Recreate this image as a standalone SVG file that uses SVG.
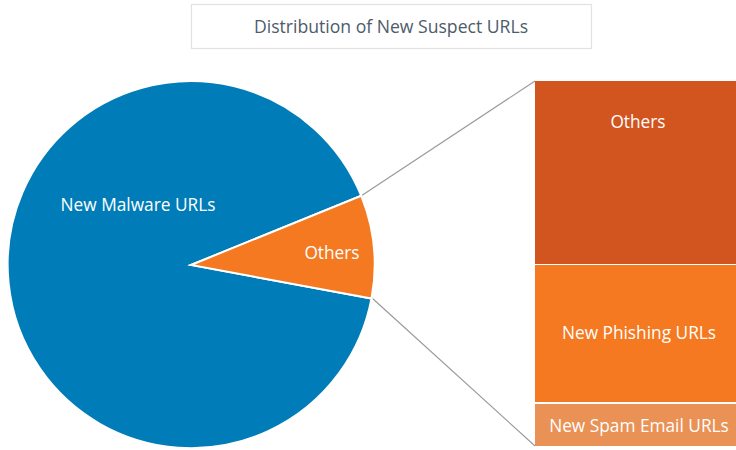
<svg xmlns="http://www.w3.org/2000/svg" width="736" height="450" viewBox="0 0 736 450">
<style>
.t{font-family:"Open Sans","Noto Sans","Liberation Sans",sans-serif;font-size:17.3px;fill:#fff;text-anchor:middle}
.title{font-family:"Open Sans","Noto Sans","Liberation Sans",sans-serif;font-size:17.6px;fill:#4d5b6a;text-anchor:middle}
.conn{stroke:#9a9a9a;stroke-width:1.2;fill:none}
.sep{stroke:#fff;stroke-width:2}
</style>
<rect width="736" height="450" fill="#fff"/>
<g id="title">
<rect x="191.5" y="4.5" width="400" height="44" fill="#fff" stroke="#e2e2e2" stroke-width="1.2"/>
<text class="title" x="391" y="33">Distribution of New Suspect URLs</text>
</g>
<g id="connectors">
<line class="conn" x1="361" y1="196" x2="535" y2="81"/>
<line class="conn" x1="372" y1="298" x2="535" y2="446"/>
</g>
<g id="malware">
<path d="M191,265 L361.2,195.7 A183.5,183.5 0 1 0 371.5,298.5 Z" fill="#007db8" class="sep"/>
<text class="t" x="138" y="211">New Malware URLs</text>
</g>
<g id="others-slice">
<path d="M191,265 L361.2,195.7 A183.5,183.5 0 0 1 371.5,298.5 Z" fill="#f47920" class="sep"/>
<text class="t" x="332" y="259">Others</text>
</g>
<g id="bar-others">
<rect x="535" y="81" width="201" height="183" fill="#d2541f"/>
<text class="t" x="638" y="128">Others</text>
</g>
<g id="bar-phishing">
<rect x="535" y="265" width="201" height="137" fill="#f47920"/>
<text class="t" x="639" y="339">New Phishing URLs</text>
</g>
<g id="bar-spam">
<rect x="535" y="404" width="201" height="42" fill="#ea9155"/>
<text class="t" x="639" y="432">New Spam Email URLs</text>
</g>
</svg>
